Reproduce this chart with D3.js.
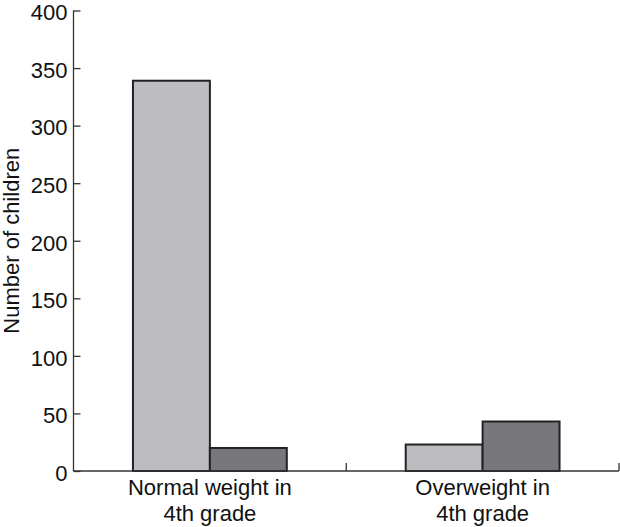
<!DOCTYPE html>
<html><head><meta charset="utf-8">
<script src="https://cdn.jsdelivr.net/npm/d3@7"></script>
<style>body{margin:0;background:#fff}svg{display:block}text{font-family:"Liberation Sans",Arial,Helvetica,sans-serif;fill:#111}</style>
</head><body><svg id="c" width="620" height="527"></svg>
<script>
const categories = ["Normal weight in\n4th grade", "Overweight in\n4th grade"];
const seriesA = [339, 23];
const seriesB = [20, 43];
const yTicks = [0, 50, 100, 150, 200, 250, 300, 350, 400];
const colors = ["#bdbdc1", "#78777c"];

const svg = d3.select("#c");
const m = {l: 73.5, r: 619, t: 10.5, b: 471};
const x = d3.scaleBand().domain(categories).range([m.l, m.r]).paddingInner(0).paddingOuter(0);
const y = d3.scaleLinear().domain([0, 400]).range([m.b, m.t]);
const pad = x.bandwidth() * 0.218;
const inner = d3.scaleBand().domain([0, 1]).range([pad, x.bandwidth() - pad]).padding(0);

const data = categories.map((c, i) => ({c, v: [seriesA[i], seriesB[i]]}));
const g = svg.append("g");
data.forEach(d => {
  d.v.forEach((v, j) => {
    g.append("rect")
      .attr("x", x(d.c) + inner(j))
      .attr("y", y(v))
      .attr("width", inner.bandwidth())
      .attr("height", y(0) - y(v))
      .attr("fill", colors[j])
      .attr("stroke", "#222")
      .attr("stroke-width", 2);
  });
});

// y axis
const ya = svg.append("g").attr("transform", `translate(${m.l},0)`)
  .call(d3.axisLeft(y).tickValues(yTicks).tickSize(-7).tickPadding(14));
ya.select(".domain").attr("stroke", "#333").attr("stroke-width", 1.3).attr("d", `M0,${m.b}V${m.t}`);
ya.selectAll(".tick line").attr("stroke", "#333").attr("stroke-width", 1.3);
ya.selectAll(".tick text").attr("font-size", 22).attr("fill", "#111").attr("x", -6).attr("dy", "0.42em").attr("text-anchor", "end");

// x axis
const xa = svg.append("g").attr("transform", `translate(0,${m.b})`);
xa.append("line").attr("x1", m.l).attr("x2", m.r).attr("stroke", "#333").attr("stroke-width", 1.3);
const bounds = [x(categories[1]), m.r];
bounds.forEach(b => xa.append("line").attr("x1", b).attr("x2", b).attr("y1", 0).attr("y2", -8).attr("stroke", "#333").attr("stroke-width", 1.3));
categories.forEach(c => {
  const t = xa.append("text").attr("text-anchor", "middle").attr("font-size", 22).attr("fill", "#111");
  c.split("\n").forEach((line, i) => {
    t.append("tspan").attr("x", x(c) + x.bandwidth() / 2).attr("y", 24 + i * 25.5).text(line);
  });
});

svg.append("text").attr("transform", `translate(19,${(m.t + m.b) / 2}) rotate(-90)`)
  .attr("text-anchor", "middle").attr("font-size", 22).attr("fill", "#111").text("Number of children");
</script></body></html>
